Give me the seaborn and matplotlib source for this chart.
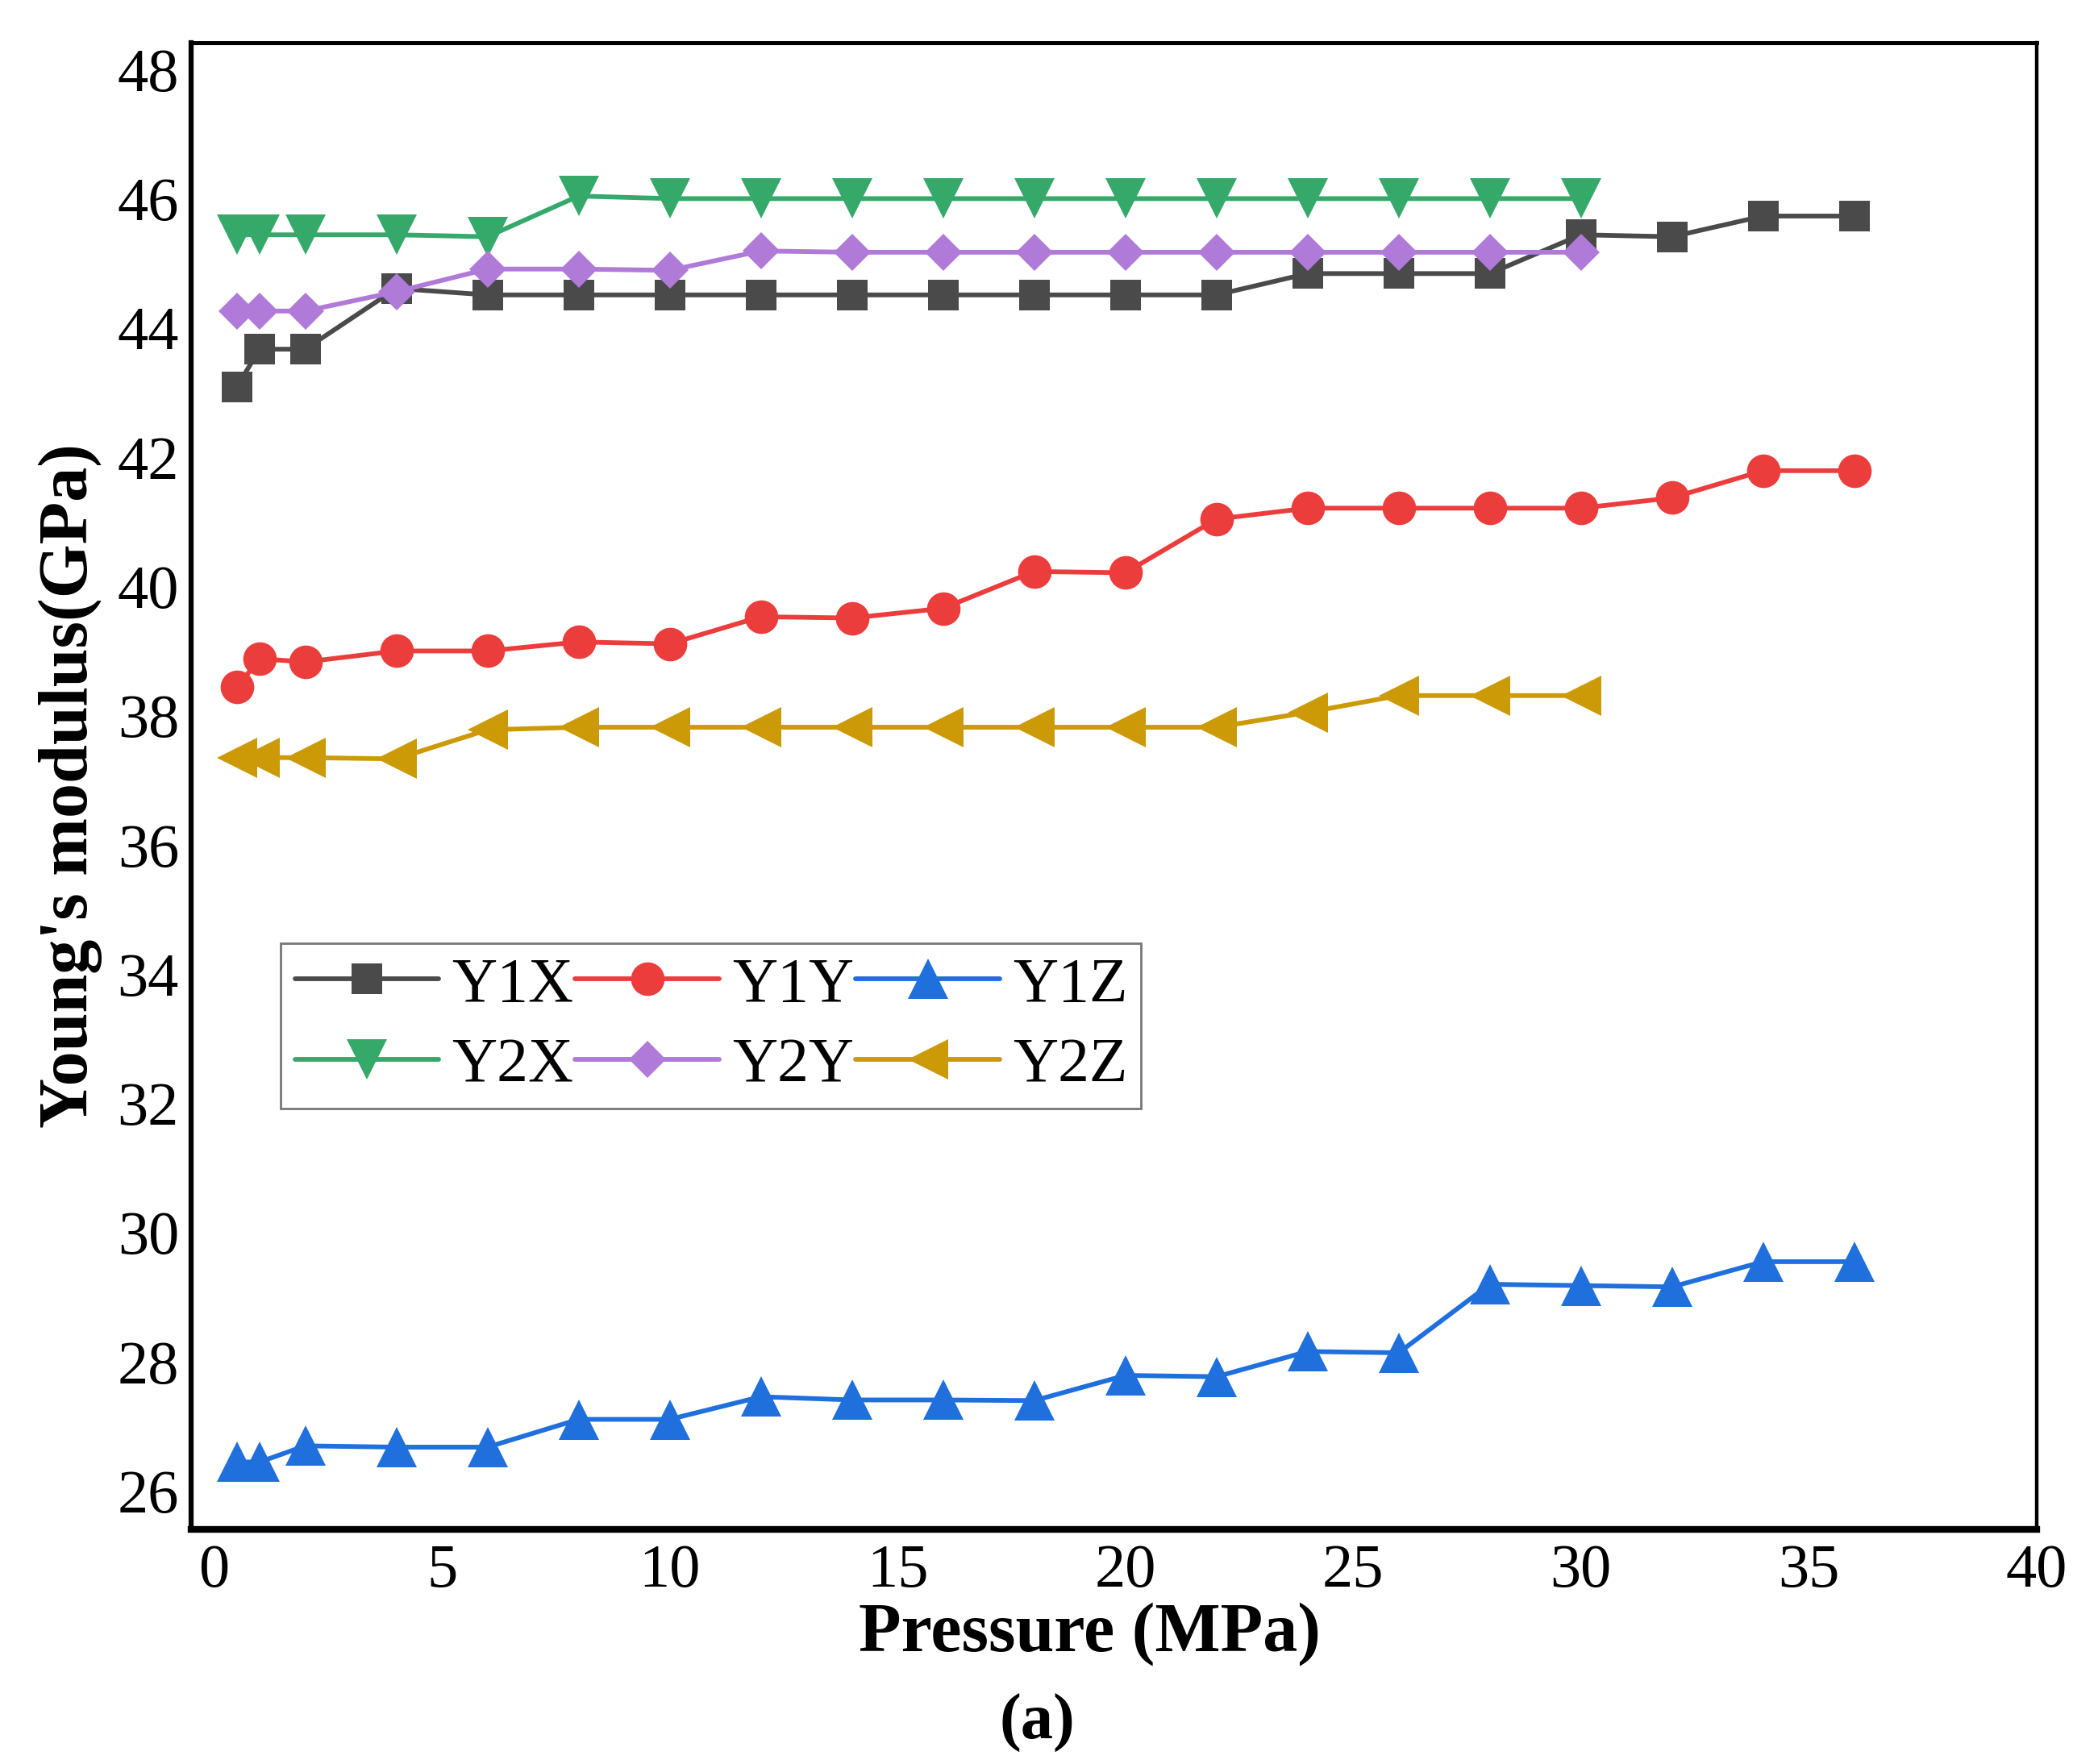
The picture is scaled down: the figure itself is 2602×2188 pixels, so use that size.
import numpy as np
import pandas as pd
import matplotlib
matplotlib.use("Agg")
import matplotlib.pyplot as plt
import matplotlib.transforms as mtrans
import seaborn as sns

# ---------------- data ----------------
pressure_1 = [0.5, 1, 2, 4, 6, 8, 10, 12, 14, 16, 18, 20, 22, 24, 26, 28, 30, 32, 34, 36]
pressure_2 = [0.5, 1, 2, 4, 6, 8, 10, 12, 14, 16, 18, 20, 22, 24, 26, 28, 30]

y1x = [42.68, 43.26, 43.26, 44.20, 44.10, 44.10, 44.10, 44.10, 44.10, 44.10,
       44.10, 44.10, 44.10, 44.43, 44.43, 44.43, 45.03, 45.00, 45.32, 45.32]
y1y = [38.03, 38.47, 38.42, 38.59, 38.59, 38.73, 38.70, 39.12, 39.10, 39.25,
       39.82, 39.80, 40.63, 40.80, 40.80, 40.80, 40.80, 40.96, 41.38, 41.38]
y1z = [26.04, 26.04, 26.29, 26.27, 26.27, 26.70, 26.70, 27.05, 27.00, 27.00,
       26.99, 27.38, 27.36, 27.75, 27.73, 28.79, 28.77, 28.75, 29.14, 29.14]
y2x = [45.03, 45.03, 45.03, 45.03, 45.00, 45.63, 45.59, 45.59, 45.59, 45.59,
       45.59, 45.59, 45.59, 45.59, 45.59, 45.59, 45.59]
y2y = [43.85, 43.85, 43.85, 44.15, 44.50, 44.50, 44.48, 44.78, 44.76, 44.76,
       44.76, 44.76, 44.76, 44.76, 44.76, 44.76, 44.76]
y2z = [36.94, 36.94, 36.94, 36.92, 37.37, 37.41, 37.41, 37.41, 37.41, 37.41,
       37.41, 37.41, 37.41, 37.64, 37.90, 37.90, 37.90]

series_names = ["Y1X", "Y1Y", "Y1Z", "Y2X", "Y2Y", "Y2Z"]
x_ticks = [0, 5, 10, 15, 20, 25, 30, 35, 40]
y_ticks = [26, 28, 30, 32, 34, 36, 38, 40, 42, 44, 46, 48]

# ---------------- style ----------------
sns.set_style("white")
plt.rcParams["font.family"] = ["Liberation Serif", "DejaVu Serif"]
plt.rcParams["text.color"] = "black"
plt.rcParams["axes.labelcolor"] = "black"
plt.rcParams["xtick.color"] = "black"
plt.rcParams["ytick.color"] = "black"

series = [
    ("Y1X", pressure_1, y1x, "#4a4a4a", "s", 28),
    ("Y1Y", pressure_1, y1y, "#ec3d3d", "o", 30),
    ("Y1Z", pressure_1, y1z, "#1f6fdc", "^", 36),
    ("Y2X", pressure_2, y2x, "#35a96a", "v", 36),
    ("Y2Y", pressure_2, y2y, "#b07ad9", "D", 23),
    ("Y2Z", pressure_2, y2z, "#cc9a06", "<", 36),
]

fig = plt.figure(figsize=(26.02, 21.88), dpi=100)
ax = fig.add_axes([0.0912, 0.1331, 0.8795, 0.8426])

for name, xs, ys, col, mk, ms in series:
    df = pd.DataFrame({"Pressure": xs, "E": ys})
    sns.lineplot(data=df, x="Pressure", y="E", ax=ax, color=col, marker=mk,
                 markersize=ms, markeredgewidth=0, linewidth=4.2, label=name,
                 legend=False)

ax.set_xlim(-0.5, 40.0)
ax.set_ylim(25.0, 48.0)
ax.set_xticks(x_ticks)
ax.set_yticks(y_ticks)
ax.set_xticklabels([str(t) for t in x_ticks])
ax.set_yticklabels([str(t) for t in y_ticks])

ax.tick_params(axis="x", direction="in", length=24, width=2.8, pad=13,
               labelsize=55, color="black", labelcolor="black", top=False)
ax.tick_params(axis="y", direction="in", length=20, width=3.6, pad=11,
               labelsize=55, color="black", labelcolor="black", right=False)

# y tick labels sit slightly below their ticks
offset = mtrans.ScaledTranslation(0, -0.33, fig.dpi_scale_trans)
for lab in ax.get_yticklabels():
    lab.set_transform(lab.get_transform() + offset)

for side, lw in (("left", 4.5), ("bottom", 6.0), ("top", 3.6), ("right", 3.2)):
    ax.spines[side].set_visible(True)
    ax.spines[side].set_color("black")
    ax.spines[side].set_linewidth(lw)

ax.set_xlabel("Pressure (MPa)", fontsize=62, fontweight="bold", color="black")
ax.set_ylabel("Young's modulus(GPa)", fontsize=62, fontweight="bold", color="black")
ax.xaxis.set_label_coords(0.487, -0.049)
ax.yaxis.set_label_coords(-0.048, 0.5)

# legend: rows Y1*, Y2* -> reorder for column-major filling
handles, labels = ax.get_legend_handles_labels()
hmap = dict(zip(labels, handles))
order = ["Y1X", "Y2X", "Y1Y", "Y2Y", "Y1Z", "Y2Z"]
leg = ax.legend([hmap[k] for k in order], order, ncol=3, loc="upper left",
                bbox_to_anchor=(210 / 1568, 1 - 705 / 1318.5),
                bbox_transform=fig.transFigure,
                fontsize=56, frameon=True, fancybox=False, shadow=False,
                handlelength=2.3, handletextpad=0.2, columnspacing=0.03,
                borderpad=0.22, labelspacing=0.36, borderaxespad=0.0)
leg.get_frame().set_edgecolor("#555555")
leg.get_frame().set_linewidth(2.0)
for t in leg.get_texts():
    t.set_color("black")

fig.text(775 / 1568, 1 - 1288 / 1318.5, "(a)", fontsize=58, fontweight="bold",
         ha="center", va="center", color="black")

fig.savefig("out.png", dpi=100, facecolor="white")
